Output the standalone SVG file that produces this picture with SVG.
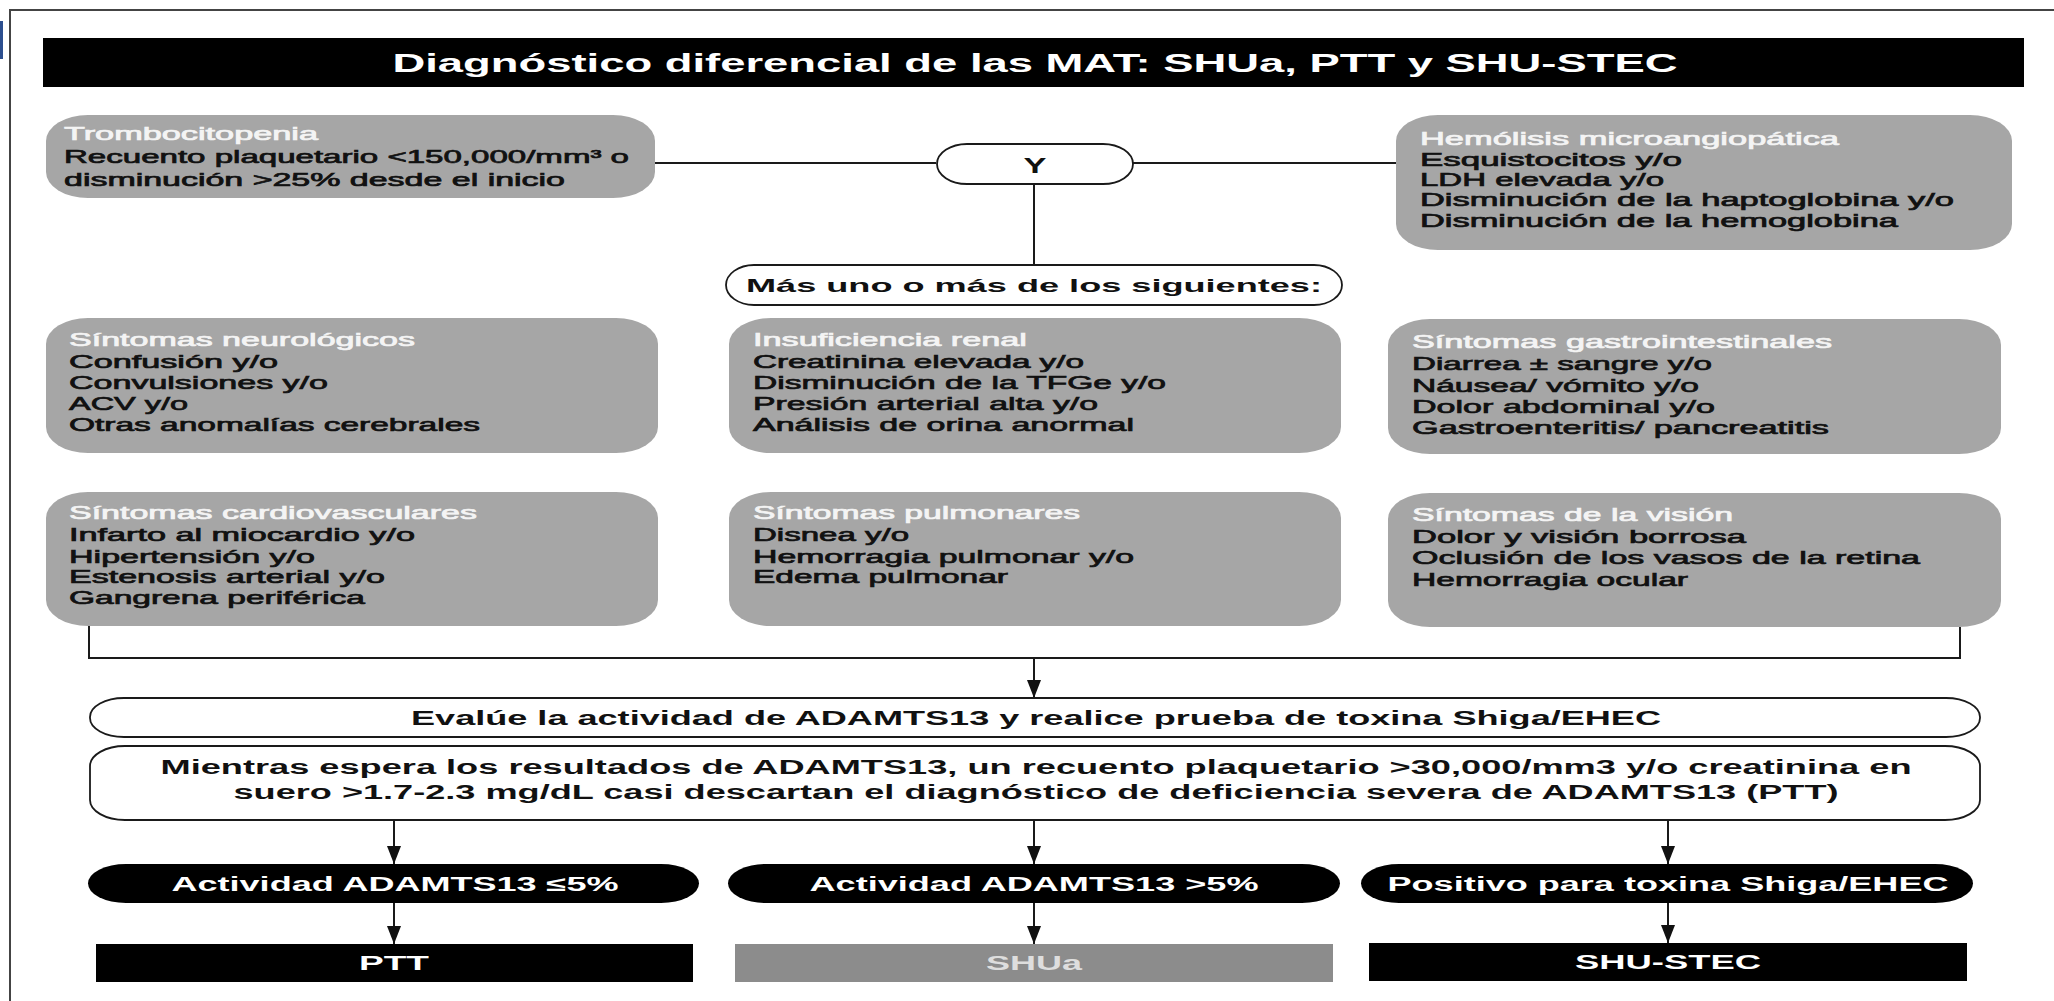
<svg xmlns="http://www.w3.org/2000/svg" width="2054" height="1001" viewBox="0 0 2054 1001">
  <defs>
    <style>
      .frame { fill: none; stroke: #444; stroke-width: 2; }
      .box { fill: #a6a6a6; }
      .pill { fill: #fff; stroke: #1a1a1a; stroke-width: 1.8; }
      .blk { fill: #000; }
      .gry { fill: #8c8c8c; }
      text { font-family: "Liberation Sans", Arial, Helvetica, sans-serif; }
      .hd { fill: #f4f4f4; stroke: #f4f4f4; stroke-width: 0.7; font-size: 18.5px; }
      .tx { fill: #111; stroke: #111; stroke-width: 0.7; font-size: 18.5px; }
      .bt { fill: #111; font-weight: bold; text-anchor: middle; }
      .wt { fill: #fff; font-weight: bold; text-anchor: middle; font-size: 20px; }
      .conn { stroke: #1a1a1a; stroke-width: 2; fill: none; }
    </style>
    <marker id="arrow" markerUnits="userSpaceOnUse" markerWidth="18" markerHeight="14" refX="18" refY="7" orient="auto">
      <path d="M0,0 L18,7 L0,14 Z" fill="#111"/>
    </marker>
  </defs>

  <rect width="2054" height="1001" fill="#fff"/>
  <!-- page frame -->
  <path class="frame" d="M10,1001 V10 H2054"/>
  <rect x="0" y="21" width="3" height="38" fill="#2c4f8f"/>

  <!-- title bar -->
  <g id="title">
    <rect class="blk" x="43" y="38" width="1981" height="49"/>
    <text x="1035" y="72" fill="#fff" font-size="26" font-weight="bold" text-anchor="middle" textLength="1285" lengthAdjust="spacingAndGlyphs">Diagnóstico diferencial de las MAT: SHUa, PTT y SHU-STEC</text>
  </g>

  <!-- connectors -->
  <g id="connectors" class="conn">
    <line x1="655" y1="163" x2="936" y2="163"/>
    <line x1="1133" y1="163" x2="1396" y2="163"/>
    <line x1="1034" y1="185" x2="1034" y2="265"/>
    <path d="M89,626 V658 H1960 V627"/>
    <line x1="1034" y1="658" x2="1034" y2="698" marker-end="url(#arrow)"/>
    <line x1="394" y1="820" x2="394" y2="864" marker-end="url(#arrow)"/>
    <line x1="1034" y1="820" x2="1034" y2="864" marker-end="url(#arrow)"/>
    <line x1="1668" y1="820" x2="1668" y2="864" marker-end="url(#arrow)"/>
    <line x1="394" y1="903" x2="394" y2="944" marker-end="url(#arrow)"/>
    <line x1="1034" y1="903" x2="1034" y2="944" marker-end="url(#arrow)"/>
    <line x1="1668" y1="903" x2="1668" y2="943" marker-end="url(#arrow)"/>
  </g>

  <g id="trombocitopenia">
    <rect class="box" x="46" y="115" width="609" height="83" rx="42" ry="26"/>
    <text class="hd" x="64" y="140" textLength="254" lengthAdjust="spacingAndGlyphs">Trombocitopenia</text>
    <text class="tx" x="64" y="163" textLength="565" lengthAdjust="spacingAndGlyphs">Recuento plaquetario &lt;150,000/mm³ o</text>
    <text class="tx" x="64" y="186" textLength="501" lengthAdjust="spacingAndGlyphs">disminución &gt;25% desde el inicio</text>
  </g>

  <g id="y-node">
    <rect class="pill" x="937" y="144" width="196" height="40" rx="30" ry="20"/>
    <text class="bt" x="1035" y="173" font-size="22" textLength="23" lengthAdjust="spacingAndGlyphs">Y</text>
  </g>

  <g id="hemolisis">
    <rect class="box" x="1396" y="115" width="616" height="135" rx="42" ry="26"/>
    <text class="hd" x="1420" y="145" textLength="419" lengthAdjust="spacingAndGlyphs">Hemólisis microangiopática</text>
    <text class="tx" x="1420" y="166" textLength="262" lengthAdjust="spacingAndGlyphs">Esquistocitos y/o</text>
    <text class="tx" x="1420" y="186" textLength="244" lengthAdjust="spacingAndGlyphs">LDH elevada y/o</text>
    <text class="tx" x="1420" y="206" textLength="534" lengthAdjust="spacingAndGlyphs">Disminución de la haptoglobina y/o</text>
    <text class="tx" x="1420" y="227" textLength="478" lengthAdjust="spacingAndGlyphs">Disminución de la hemoglobina</text>
  </g>

  <g id="mas-uno">
    <rect class="pill" x="726" y="265" width="616" height="40" rx="28" ry="20"/>
    <text class="bt" x="1034" y="292" font-size="19" textLength="576" lengthAdjust="spacingAndGlyphs">Más uno o más de los siguientes:</text>
  </g>

  <g id="neurologicos">
    <rect class="box" x="46" y="318" width="612" height="135" rx="42" ry="26"/>
    <text class="hd" x="69" y="346" textLength="346" lengthAdjust="spacingAndGlyphs">Síntomas neurológicos</text>
    <text class="tx" x="69" y="368" textLength="209" lengthAdjust="spacingAndGlyphs">Confusión y/o</text>
    <text class="tx" x="69" y="389" textLength="259" lengthAdjust="spacingAndGlyphs">Convulsiones y/o</text>
    <text class="tx" x="69" y="410" textLength="119" lengthAdjust="spacingAndGlyphs">ACV y/o</text>
    <text class="tx" x="69" y="431" textLength="411" lengthAdjust="spacingAndGlyphs">Otras anomalías cerebrales</text>
  </g>

  <g id="renal">
    <rect class="box" x="729" y="318" width="612" height="135" rx="42" ry="26"/>
    <text class="hd" x="753" y="346" textLength="274" lengthAdjust="spacingAndGlyphs">Insuficiencia renal</text>
    <text class="tx" x="753" y="368" textLength="331" lengthAdjust="spacingAndGlyphs">Creatinina elevada y/o</text>
    <text class="tx" x="753" y="389" textLength="413" lengthAdjust="spacingAndGlyphs">Disminución de la TFGe y/o</text>
    <text class="tx" x="753" y="410" textLength="345" lengthAdjust="spacingAndGlyphs">Presión arterial alta y/o</text>
    <text class="tx" x="753" y="431" textLength="381" lengthAdjust="spacingAndGlyphs">Análisis de orina anormal</text>
  </g>

  <g id="gastrointestinales">
    <rect class="box" x="1388" y="319" width="613" height="135" rx="42" ry="26"/>
    <text class="hd" x="1412" y="348" textLength="420" lengthAdjust="spacingAndGlyphs">Síntomas gastrointestinales</text>
    <text class="tx" x="1412" y="370" textLength="300" lengthAdjust="spacingAndGlyphs">Diarrea ± sangre y/o</text>
    <text class="tx" x="1412" y="392" textLength="287" lengthAdjust="spacingAndGlyphs">Náusea/ vómito y/o</text>
    <text class="tx" x="1412" y="413" textLength="303" lengthAdjust="spacingAndGlyphs">Dolor abdominal y/o</text>
    <text class="tx" x="1412" y="434" textLength="417" lengthAdjust="spacingAndGlyphs">Gastroenteritis/ pancreatitis</text>
  </g>

  <g id="cardiovasculares">
    <rect class="box" x="46" y="492" width="612" height="134" rx="42" ry="26"/>
    <text class="hd" x="69" y="519" textLength="408" lengthAdjust="spacingAndGlyphs">Síntomas cardiovasculares</text>
    <text class="tx" x="69" y="541" textLength="346" lengthAdjust="spacingAndGlyphs">Infarto al miocardio y/o</text>
    <text class="tx" x="69" y="563" textLength="246" lengthAdjust="spacingAndGlyphs">Hipertensión y/o</text>
    <text class="tx" x="69" y="583" textLength="316" lengthAdjust="spacingAndGlyphs">Estenosis arterial y/o</text>
    <text class="tx" x="69" y="604" textLength="296" lengthAdjust="spacingAndGlyphs">Gangrena periférica</text>
  </g>

  <g id="pulmonares">
    <rect class="box" x="729" y="492" width="612" height="134" rx="42" ry="26"/>
    <text class="hd" x="753" y="519" textLength="327" lengthAdjust="spacingAndGlyphs">Síntomas pulmonares</text>
    <text class="tx" x="753" y="541" textLength="156" lengthAdjust="spacingAndGlyphs">Disnea y/o</text>
    <text class="tx" x="753" y="563" textLength="381" lengthAdjust="spacingAndGlyphs">Hemorragia pulmonar y/o</text>
    <text class="tx" x="753" y="583" textLength="255" lengthAdjust="spacingAndGlyphs">Edema pulmonar</text>
  </g>

  <g id="vision">
    <rect class="box" x="1388" y="493" width="613" height="134" rx="42" ry="26"/>
    <text class="hd" x="1412" y="521" textLength="321" lengthAdjust="spacingAndGlyphs">Síntomas de la visión</text>
    <text class="tx" x="1412" y="543" textLength="334" lengthAdjust="spacingAndGlyphs">Dolor y visión borrosa</text>
    <text class="tx" x="1412" y="564" textLength="508" lengthAdjust="spacingAndGlyphs">Oclusión de los vasos de la retina</text>
    <text class="tx" x="1412" y="586" textLength="276" lengthAdjust="spacingAndGlyphs">Hemorragia ocular</text>
  </g>

  <g id="evalue">
    <rect class="pill" x="90" y="698" width="1890" height="39" rx="34" ry="19"/>
    <text class="bt" x="1036" y="725" font-size="20" textLength="1250" lengthAdjust="spacingAndGlyphs">Evalúe la actividad de ADAMTS13 y realice prueba de toxina Shiga/EHEC</text>
  </g>

  <g id="mientras">
    <rect class="pill" x="90" y="746" width="1890" height="74" rx="35" ry="20"/>
    <text class="bt" x="1036" y="774" font-size="20" textLength="1751" lengthAdjust="spacingAndGlyphs">Mientras espera los resultados de ADAMTS13, un recuento plaquetario &gt;30,000/mm3 y/o creatinina en</text>
    <text class="bt" x="1036" y="799" font-size="20" textLength="1605" lengthAdjust="spacingAndGlyphs">suero &gt;1.7-2.3 mg/dL casi descartan el diagnóstico de deficiencia severa de ADAMTS13 (PTT)</text>
  </g>

  <g id="actividad-baja">
    <rect class="blk" x="88" y="864" width="611" height="39" rx="38" ry="19.5"/>
    <text class="wt" x="395" y="891" textLength="447" lengthAdjust="spacingAndGlyphs">Actividad ADAMTS13 ≤5%</text>
  </g>
  <g id="actividad-alta">
    <rect class="blk" x="728" y="864" width="612" height="39" rx="38" ry="19.5"/>
    <text class="wt" x="1034" y="891" textLength="449" lengthAdjust="spacingAndGlyphs">Actividad ADAMTS13 &gt;5%</text>
  </g>
  <g id="positivo-shiga">
    <rect class="blk" x="1361" y="864" width="612" height="39" rx="38" ry="19.5"/>
    <text class="wt" x="1668" y="891" textLength="561" lengthAdjust="spacingAndGlyphs">Positivo para toxina Shiga/EHEC</text>
  </g>

  <g id="ptt">
    <rect class="blk" x="96" y="944" width="597" height="38"/>
    <text class="wt" x="394" y="970" textLength="70" lengthAdjust="spacingAndGlyphs">PTT</text>
  </g>
  <g id="shua">
    <rect class="gry" x="735" y="944" width="598" height="38"/>
    <text class="wt" x="1034" y="970" style="fill:#dedede" textLength="96" lengthAdjust="spacingAndGlyphs">SHUa</text>
  </g>
  <g id="shu-stec">
    <rect class="blk" x="1369" y="943" width="598" height="38"/>
    <text class="wt" x="1668" y="969" textLength="186" lengthAdjust="spacingAndGlyphs">SHU-STEC</text>
  </g>
</svg>
